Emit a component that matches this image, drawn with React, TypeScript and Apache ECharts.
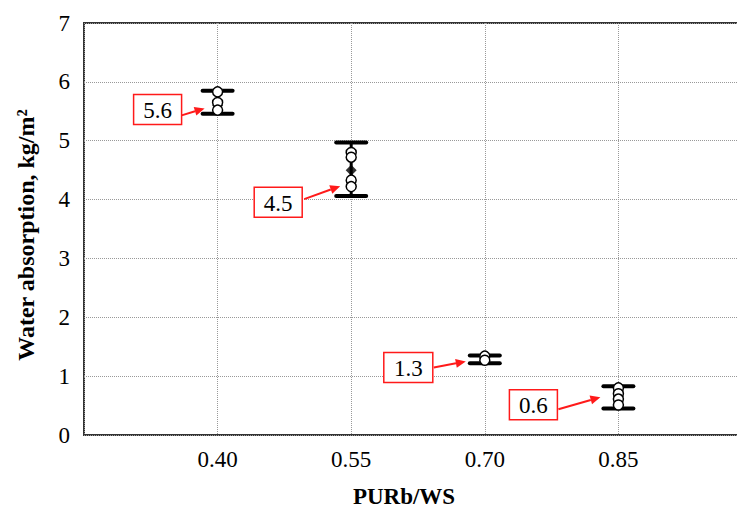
import React, { useEffect, useRef } from "react";
import * as echarts from "echarts";

// ---- data ----
const X_VALUES = [0.4, 0.55, 0.7, 0.85];
const MEANS = [5.6, 4.5, 1.3, 0.6];
const UPPER = [5.85, 4.97, 1.35, 0.83];
const LOWER = [5.46, 4.06, 1.22, 0.45];
const SAMPLES = [
  [5.83, 5.65, 5.52],
  [4.8, 4.72, 4.33, 4.22],
  [1.34, 1.27],
  [0.8, 0.7, 0.61, 0.51],
];
const MEAN_LABELS = ["5.6", "4.5", "1.3", "0.6"];
const X_NAME = "PURb/WS";
const Y_NAME = "Water absorption, kg/m²";

// ---- layout of the callouts (pixel offsets relative to each mean point) ----
const CALLOUTS = [
  { box: [-84, -11, 48, 30], from: [-36, 10], to: [-13, 3] },
  { box: [-97, 17, 48, 30], from: [-47, 29], to: [-11, 16] },
  { box: [-101, -6, 49, 30], from: [-51, 9], to: [-19, 3] },
  { box: [-109, -10, 48, 30], from: [-60, 9.5], to: [-18, -2.5] },
];

const FONT = "'Liberation Serif', 'Times New Roman', serif";
const RED = "#ff1a1a";

export default function App() {
  const ref = useRef<HTMLDivElement>(null);
  useEffect(() => {
    if (!ref.current) return;
    const chart = echarts.init(ref.current, null, { renderer: "svg" });
    const samplePts: number[][] = [];
    SAMPLES.forEach((arr, i) => arr.forEach((v) => samplePts.push([X_VALUES[i], v])));
    const option: any = {
      animation: false,
      backgroundColor: "#fff",
      grid: {
        show: true,
        left: 84,
        top: 23,
        width: 668,
        height: 412,
        outerBoundsMode: "none",
        containLabel: false,
        borderColor: "#333",
        borderWidth: 2,
      },
      xAxis: {
        type: "value",
        min: 0.25,
        max: 1.0,
        interval: 0.15,
        axisLine: { show: false },
        axisTick: { show: false },
        splitLine: { show: true, lineStyle: { type: "dotted", color: "#999", width: 1 } },
        axisLabel: {
          margin: 13,
          fontFamily: FONT,
          fontSize: 23,
          color: "#000",
          formatter: (v: number) => (v > 0.3 && v < 0.9 ? v.toFixed(2) : ""),
        },
        name: X_NAME,
        nameLocation: "middle",
        nameGap: 50,
        nameTextStyle: {
          fontFamily: FONT,
          fontSize: 23,
          fontWeight: "bold",
          color: "#000",
          padding: [0, 28, 0, 0],
        },
      },
      yAxis: {
        type: "value",
        min: 0,
        max: 7,
        interval: 1,
        axisLine: { show: false },
        axisTick: { show: false },
        splitLine: { show: true, lineStyle: { type: "dotted", color: "#999", width: 1 } },
        axisLabel: { margin: 14, fontFamily: FONT, fontSize: 23, color: "#000" },
        name: Y_NAME,
        nameLocation: "middle",
        nameGap: 46,
        nameTextStyle: {
          fontFamily: FONT,
          fontSize: 24,
          fontWeight: "bold",
          color: "#000",
          padding: [0, 12, 0, 0],
        },
      },
      series: [
        {
          type: "custom",
          z: 2,
          data: X_VALUES.map((x, i) => [x, LOWER[i], UPPER[i]]),
          encode: { x: 0, y: [1, 2] },
          renderItem: (params: any, api: any) => {
            const x = api.value(0);
            const top = api.coord([x, api.value(2)]);
            const bot = api.coord([x, api.value(1)]);
            const hw = 15;
            return {
              type: "group",
              children: [
                {
                  type: "line",
                  shape: { x1: top[0], y1: top[1], x2: bot[0], y2: bot[1] },
                  style: { stroke: "#000", lineWidth: 3 },
                },
                {
                  type: "line",
                  shape: { x1: top[0] - hw, y1: top[1], x2: top[0] + hw, y2: top[1] },
                  style: { stroke: "#000", lineWidth: 4, lineCap: "round" },
                },
                {
                  type: "line",
                  shape: { x1: bot[0] - hw, y1: bot[1], x2: bot[0] + hw, y2: bot[1] },
                  style: { stroke: "#000", lineWidth: 4, lineCap: "round" },
                },
              ],
            };
          },
        },
        {
          type: "scatter",
          z: 3,
          symbol: "diamond",
          symbolSize: 11,
          itemStyle: { color: "#000" },
          data: X_VALUES.map((x, i) => [x, MEANS[i]]),
        },
        {
          type: "scatter",
          z: 4,
          symbol: "circle",
          symbolSize: 10,
          itemStyle: { color: "#fff", borderColor: "#000", borderWidth: 1.5, opacity: 1 },
          data: samplePts,
        },
      ],
    };
    chart.setOption(option);

    const graphics: any[] = [];
    X_VALUES.forEach((x, i) => {
      const p = chart.convertToPixel({ gridIndex: 0 }, [x, MEANS[i]]) as number[];
      const c = CALLOUTS[i];
      const bx = p[0] + c.box[0];
      const by = p[1] + c.box[1];
      graphics.push({
        type: "rect",
        shape: { x: bx, y: by, width: c.box[2], height: c.box[3] },
        style: { fill: "#fff", stroke: RED, lineWidth: 1.5 },
        z: 10,
      });
      graphics.push({
        type: "text",
        x: bx + c.box[2] / 2,
        y: by + c.box[3] / 2 + 1,
        style: {
          text: MEAN_LABELS[i],
          fontFamily: FONT,
          fontSize: 23,
          fill: "#000",
          align: "center",
          verticalAlign: "middle",
        },
        z: 11,
      });
      const sx = p[0] + c.from[0];
      const sy = p[1] + c.from[1];
      const tx = p[0] + c.to[0];
      const ty = p[1] + c.to[1];
      const dx = tx - sx;
      const dy = ty - sy;
      const len = Math.sqrt(dx * dx + dy * dy);
      const ux = dx / len;
      const uy = dy / len;
      const hl = 10;
      const hw = 4.5;
      const bxh = tx - ux * hl;
      const byh = ty - uy * hl;
      graphics.push({
        type: "line",
        shape: { x1: sx, y1: sy, x2: bxh, y2: byh },
        style: { stroke: RED, lineWidth: 2 },
        z: 10,
      });
      graphics.push({
        type: "polygon",
        shape: {
          points: [
            [tx, ty],
            [bxh - uy * hw, byh + ux * hw],
            [bxh + uy * hw, byh - ux * hw],
          ],
        },
        style: { fill: RED },
        z: 10,
      });
    });
    chart.setOption({ graphic: graphics });

    return () => chart.dispose();
  }, []);
  return (
    <div
      ref={ref}
      style={{ position: "fixed", left: 0, top: 0, width: 737, height: 508, background: "#fff" }}
    />
  );
}
